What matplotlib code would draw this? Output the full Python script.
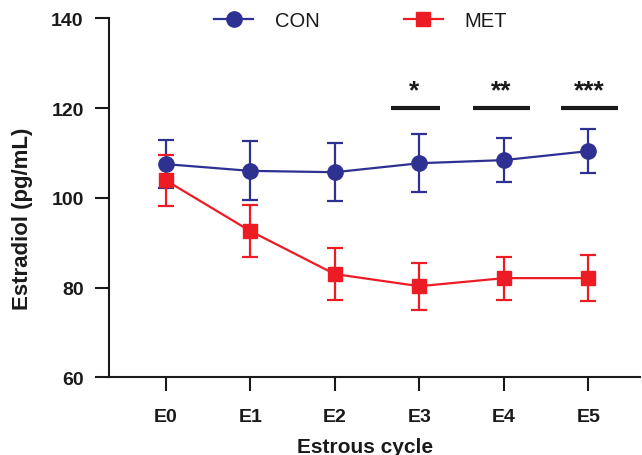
import matplotlib
matplotlib.use('Agg')
import matplotlib.pyplot as plt
import numpy as np

plt.rcParams['font.family'] = ['Liberation Sans', 'DejaVu Sans']

# data
cycles = ['E0', 'E1', 'E2', 'E3', 'E4', 'E5']
con_mean = [107.5, 106.0, 105.7, 107.7, 108.4, 110.4]
con_err = [5.3, 6.6, 6.5, 6.5, 4.9, 4.9]
met_mean = [103.9, 92.6, 83.0, 80.3, 82.1, 82.1]
met_err = [5.7, 5.8, 5.8, 5.2, 4.8, 5.1]

sig_labels = ['*', '**', '***']
sig_x = [2.94, 3.97, 5.01]
sig_bar_start = [2.67, 3.64, 4.68]
sig_bar_end = [3.24, 4.31, 5.35]
sig_bar_y = 120.0
sig_text_y = 124.0

navy = '#2e3192'
red = '#ed1c24'

x = np.arange(len(cycles))

fig = plt.figure(figsize=(6.42, 4.56), dpi=100)
ax = fig.add_axes([0.1693, 0.1704, 0.8277, 0.7873])

# error bars
ax.errorbar(x, con_mean, yerr=con_err, fmt='none', ecolor=navy, elinewidth=1.6,
            capsize=6, capthick=1.6, zorder=2)
ax.errorbar(x, met_mean, yerr=met_err, fmt='none', ecolor=red, elinewidth=1.6,
            capsize=6, capthick=1.6, zorder=2)

# lines + markers
l1, = ax.plot(x, con_mean, color=navy, lw=1.6, marker='o', markersize=11,
              label='CON', zorder=3)
l2, = ax.plot(x, met_mean, color=red, lw=1.6, marker='s', markersize=10.5,
              label='MET', zorder=3)

# significance marks
for lab, sx, x0, x1 in zip(sig_labels, sig_x, sig_bar_start, sig_bar_end):
    ax.plot([x0, x1], [sig_bar_y, sig_bar_y], color='#1a1a1a', lw=3, solid_capstyle='butt')
    ax.text(sx, sig_text_y, lab, ha='center', va='center', fontsize=19,
            fontweight='bold', color='#1a1a1a')

ax.set_xlim(-0.674, 5.61)
ax.set_ylim(60, 140)
ax.set_yticks([60, 80, 100, 120, 140])
ax.set_xticks(x)
ax.set_xticklabels(cycles)

for s in ['top', 'right']:
    ax.spines[s].set_visible(False)
for s in ['left', 'bottom']:
    ax.spines[s].set_linewidth(1.5)
    ax.spines[s].set_color('#1a1a1a')

ax.tick_params(axis='both', length=10, width=1.5, color='#1a1a1a',
               labelsize=14, labelcolor='#1a1a1a')
ax.tick_params(axis='y', pad=8)
ax.tick_params(axis='x', pad=12)
for t in ax.get_xticklabels() + ax.get_yticklabels():
    t.set_fontweight('bold')

ax.set_ylabel('Estradiol (pg/mL)', fontsize=16, fontweight='bold', color='#1a1a1a')
ax.yaxis.set_label_coords(-0.162, 0.445)
ax.yaxis.label.set_va('center')
ax.set_xlabel('Estrous cycle', fontsize=15, fontweight='bold', color='#1a1a1a')
ax.xaxis.set_label_coords(0.482, -0.208)
ax.xaxis.label.set_va('baseline')

ax.legend(handles=[l1, l2], ncol=2, frameon=False, fontsize=14.5,
          loc='center left', bbox_to_anchor=(0.165, 0.995),
          handlelength=1.9, handletextpad=1.1, columnspacing=4.2,
          labelcolor='#1a1a1a')

fig.savefig('out.png', dpi=100)
